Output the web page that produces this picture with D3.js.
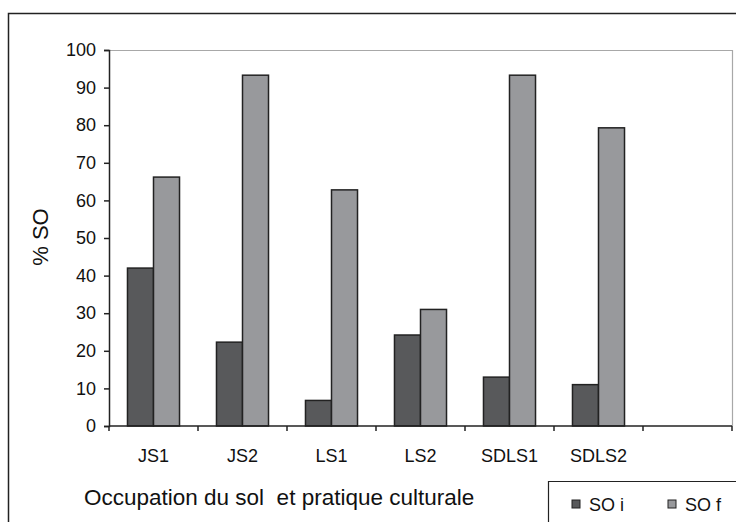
<!DOCTYPE html>
<html>
<head>
<meta charset="utf-8">
<script src="https://cdn.jsdelivr.net/npm/d3@7"></script>
<style>
  body { margin: 0; background: #fff; }
  text { font-family: "Liberation Sans", Arial, sans-serif; fill: #111; }
</style>
</head>
<body>
<script>
const categories = ["JS1", "JS2", "LS1", "LS2", "SDLS1", "SDLS2", ""]
const series = ["SO i", "SO f"]
const soInitial = [42, 22.3, 6.8, 24.2, 13, 11, null]
const soFinal = [66.2, 93.3, 62.8, 31, 93.3, 79.3, null]
const yTicks = [0, 10, 20, 30, 40, 50, 60, 70, 80, 90, 100]
const colors = ["#58595b", "#98999c"]

const W = 736, H = 522
const plot = { left: 109, right: 732, top: 50, bottom: 426 }

const svg = d3.select("body").append("svg")
    .attr("width", W)
    .attr("height", H)
    .style("display", "block")

// outer chart frame (runs off the right and bottom edges)
svg.append("path")
    .attr("d", `M8.5,${H}V13.5H${W}`)
    .attr("fill", "none")
    .attr("stroke", "#222")
    .attr("stroke-width", 1.5)

const x = d3.scaleBand()
    .domain(categories.map((c, i) => i))
    .range([plot.left, plot.right])

const x1 = d3.scaleBand()
    .domain([0, 1])
    .range([0, x.bandwidth()])
    .paddingOuter(0.71)

const y = d3.scaleLinear()
    .domain([0, 100])
    .range([plot.bottom, plot.top])

// plot area top/right border
svg.append("path")
    .attr("d", `M${plot.left},${plot.top + 0.5}H${plot.right + 0.5}V${plot.bottom}`)
    .attr("fill", "none")
    .attr("stroke", "#a8a8a8")
    .attr("stroke-width", 1.2)

const rows = categories.map((c, i) => ({ i, vals: [soInitial[i], soFinal[i]] }))

const gBars = svg.append("g")
    .attr("stroke", "#222")
    .attr("stroke-width", 1.5)

gBars.selectAll("g")
    .data(rows)
    .join("g")
    .attr("transform", d => `translate(${x(d.i)},0)`)
  .selectAll("rect")
    .data(d => d.vals.map((v, k) => ({ v, k })).filter(e => e.v != null))
    .join("rect")
    .attr("x", e => x1(e.k))
    .attr("width", x1.bandwidth())
    .attr("y", e => y(e.v))
    .attr("height", e => y(0) - y(e.v))
    .attr("fill", e => colors[e.k])

// y axis
const yAxis = svg.append("g")
    .attr("transform", `translate(${plot.left},0)`)
    .call(d3.axisLeft(y).tickValues(yTicks).tickSize(5).tickPadding(8))
yAxis.selectAll("path, line").attr("stroke", "#222").attr("stroke-width", 1.5)
yAxis.selectAll("text").style("font-size", "18px")
    .style("font-family", "'Liberation Sans', Arial, sans-serif").attr("fill", "#111")

// x axis: ticks between categories
const xAxis = svg.append("g")
    .attr("transform", `translate(0,${plot.bottom})`)
xAxis.append("line")
    .attr("x1", plot.left).attr("x2", plot.right)
    .attr("stroke", "#222").attr("stroke-width", 1.5)
xAxis.selectAll("line.tick")
    .data(d3.range(categories.length + 1))
    .join("line")
    .attr("class", "tick")
    .attr("x1", i => i < categories.length ? x(i) : plot.right)
    .attr("x2", i => i < categories.length ? x(i) : plot.right)
    .attr("y1", 0).attr("y2", 5)
    .attr("stroke", "#222").attr("stroke-width", 1.5)
xAxis.selectAll("text")
    .data(rows)
    .join("text")
    .attr("x", d => x(d.i) + x.bandwidth() / 2)
    .attr("y", 36)
    .attr("text-anchor", "middle")
    .style("font-size", "18px")
    .text(d => categories[d.i])

// axis titles
svg.append("text")
    .attr("x", 84).attr("y", 505)
    .style("font-size", "22.5px")
    .attr("xml:space", "preserve")
    .text("Occupation du sol  et pratique culturale")

svg.append("text")
    .attr("transform", `translate(48,237) rotate(-90)`)
    .attr("text-anchor", "middle")
    .style("font-size", "22px")
    .text("% SO")

// legend
const legend = svg.append("g")
legend.append("path")
    .attr("d", `M548.5,${H}V481.5H${W}`)
    .attr("fill", "none")
    .attr("stroke", "#222").attr("stroke-width", 1.2)
const li = legend.selectAll("g")
    .data(series)
    .join("g")
    .attr("transform", (d, i) => `translate(${572 + i * 96},500)`)
li.append("rect")
    .attr("width", 8).attr("height", 8)
    .attr("fill", (d, i) => colors[i])
    .attr("stroke", "#222").attr("stroke-width", 1)
li.append("text")
    .attr("x", 17).attr("y", 11)
    .style("font-size", "18px")
    .text(d => d)
</script>
</body>
</html>
